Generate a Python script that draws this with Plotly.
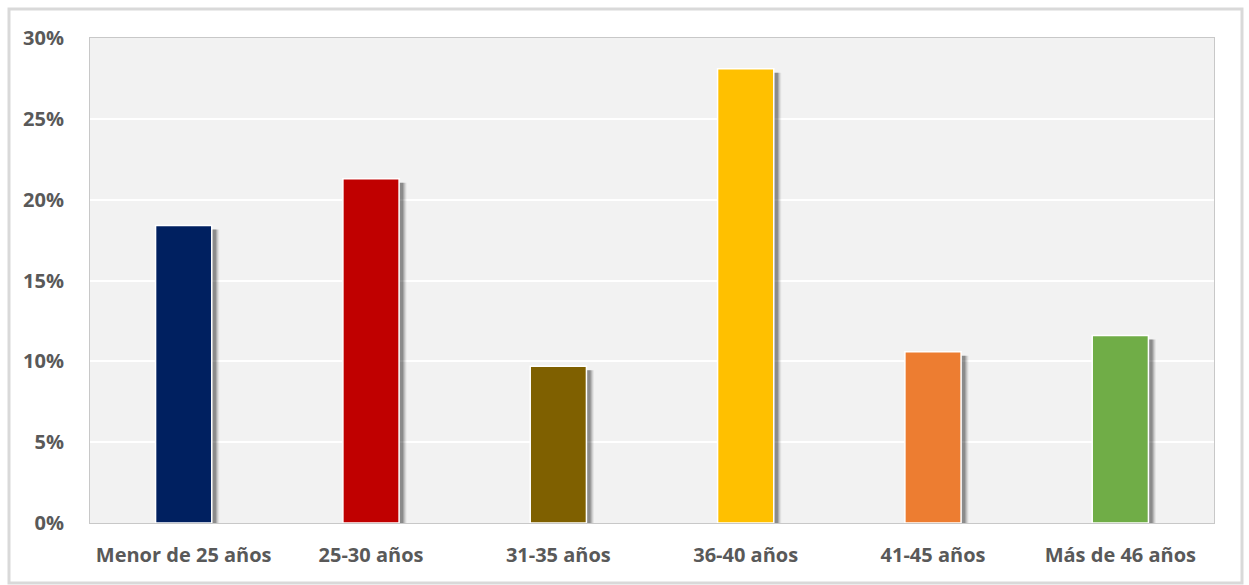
import plotly.graph_objects as go

categories = ["Menor de 25 años", "25-30 años", "31-35 años", "36-40 años", "41-45 años", "Más de 46 años"]
values = [18.4, 21.3, 9.7, 28.1, 10.6, 11.6]
colors = ["#002060", "#C00000", "#7F6000", "#FFC000", "#ED7D31", "#70AD47"]
y_ticks = [0, 5, 10, 15, 20, 25, 30]
y_tick_labels = ["0%", "5%", "10%", "15%", "20%", "25%", "30%"]

W, H = 1249, 585
ML, MR, MT, MB = 90, 35, 38, 62
PW, PH = W - ML - MR, H - MT - MB

fig = go.Figure()

# soft shadow layers
for dx, op in [(0.040, 0.06), (0.034, 0.10), (0.028, 0.14), (0.022, 0.20)]:
    fig.add_trace(go.Bar(
        x=categories, y=values, width=0.3, offset=-0.15 + dx,
        base=-0.25, marker=dict(color=f"rgba(0,0,0,{op})", line=dict(width=0)),
        hoverinfo="skip", showlegend=False,
    ))

fig.add_trace(go.Bar(
    x=categories, y=values, width=0.3, offset=-0.15,
    marker=dict(color=colors, line=dict(color="white", width=1.5)),
    showlegend=False,
))

def px_x(p):
    return (p - ML) / PW

def px_y(p):
    return 1 - (p - MT) / PH

fig.add_shape(type="rect", xref="paper", yref="paper",
              x0=px_x(9), x1=px_x(1242), y0=px_y(9), y1=px_y(583),
              line=dict(color="#D9D9D9", width=3), fillcolor="rgba(0,0,0,0)", layer="below")

tf = dict(family="Open Sans", size=20, color="#595959", weight="bold")

fig.update_layout(
    width=W, height=H,
    margin=dict(l=ML, r=MR, t=MT, b=MB, pad=0),
    paper_bgcolor="white", plot_bgcolor="#F2F2F2",
    barmode="overlay", bargap=0.7,
    font=dict(family="Open Sans", size=20, color="#595959"),
    xaxis=dict(showgrid=False, showline=True, mirror=True, linecolor="#C8C8C8", linewidth=1,
               ticks="outside", ticklen=14, tickcolor="rgba(0,0,0,0)",
               tickfont=tf, fixedrange=True),
    yaxis=dict(range=[0, 30], tickvals=y_ticks, ticktext=y_tick_labels,
               showgrid=True, gridcolor="white", gridwidth=2, zeroline=False,
               showline=True, mirror=True, linecolor="#C8C8C8", linewidth=1,
               ticks="outside", ticklen=21, tickcolor="rgba(0,0,0,0)",
               tickfont=tf, fixedrange=True),
)

fig.write_html("out.html")
